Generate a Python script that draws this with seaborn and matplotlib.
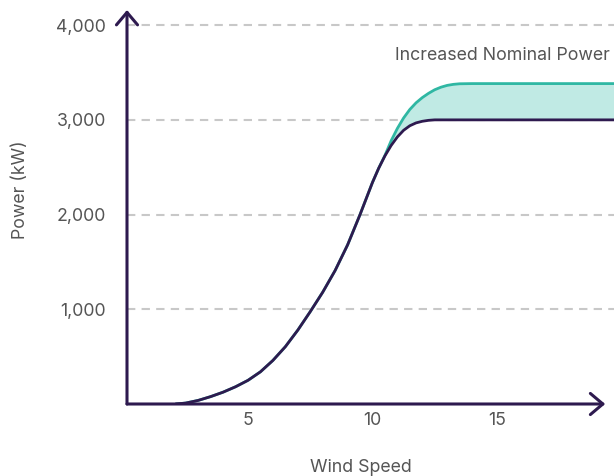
import pandas as pd
import matplotlib
matplotlib.use('Agg')
import matplotlib.pyplot as plt
import seaborn as sns

# data (wind speed in m/s, power in kW)
wind_speed = [2.1, 2.5, 3.0, 3.5, 4.0, 4.5, 5.0, 5.5, 6.0, 6.5, 7.0, 7.5, 8.0,
              8.5, 9.0, 9.5, 10.0, 10.25, 10.5, 10.75, 11.0, 11.25, 11.5,
              11.75, 12.0, 12.25, 12.5, 12.75, 13.0, 13.25, 13.5, 14.0, 15.0,
              16.0, 17.0, 18.0, 19.0, 19.8]
power_standard = [0, 10, 38, 78, 125, 182, 250, 340, 460, 605, 780, 975, 1180,
                  1410, 1680, 2000, 2340, 2490, 2620, 2730, 2820, 2890, 2938,
                  2968, 2985, 2995, 3000, 3000, 3000, 3000, 3000, 3000, 3000,
                  3000, 3000, 3000, 3000, 3000]
power_increased = [0, 10, 38, 78, 125, 182, 250, 340, 460, 605, 780, 975, 1180,
                   1410, 1680, 2000, 2340, 2490, 2625, 2780, 2910, 3020, 3110,
                   3180, 3235, 3280, 3318, 3345, 3364, 3375, 3381, 3383, 3383,
                   3383, 3383, 3383, 3383, 3383]
x_ticks = [5, 10, 15]
y_ticks = [1000, 2000, 3000, 4000]
y_tick_labels = ['1,000', '2,000', '3,000', '4,000']

dark = '#2e1a4f'
teal = '#2fb7a3'
fill = '#c0eae4'
grey = '#555555'

df = pd.DataFrame({'speed': wind_speed, 'standard': power_standard,
                   'increased': power_increased})

sns.set_theme(style='white')
plt.rcParams['font.family'] = ['Inter', 'DejaVu Sans']

fig = plt.figure(figsize=(6.14, 4.76), dpi=100)
ax = fig.add_axes([127 / 614, 72 / 476, 487 / 614, 394 / 476])

ax.fill_between(df['speed'], df['standard'], df['increased'], color=fill, lw=0)
sns.lineplot(data=df, x='speed', y='increased', color=teal, lw=2, ax=ax)
sns.lineplot(data=df, x='speed', y='standard', color=dark, lw=2, ax=ax)

ax.set_xlim(0.14, 19.7)
ax.set_ylim(0, 4160)

for y in y_ticks:
    ax.axhline(y, color='#c8c8c8', lw=1.5, ls=(0, (4, 3)), zorder=0)

for s in ax.spines.values():
    s.set_visible(False)

# arrowed axes
arrow = dict(arrowstyle='->,head_length=0.45,head_width=0.38', color=dark,
             lw=2.2, mutation_scale=20, shrinkA=0, shrinkB=0)
ax.annotate('', xy=(0.982, 0), xytext=(0, 0), xycoords='axes fraction',
            arrowprops=arrow, annotation_clip=False)
ax.annotate('', xy=(0, 1.0), xytext=(0, 0), xycoords='axes fraction',
            arrowprops=arrow, annotation_clip=False)

ax.set_xticks(x_ticks)
ax.set_xticklabels([str(t) for t in x_ticks])
ax.set_yticks(y_ticks)
ax.set_yticklabels(y_tick_labels)
ax.tick_params(axis='both', length=0, labelsize=12.8, colors=grey)
ax.tick_params(axis='x', pad=6)
ax.tick_params(axis='y', pad=15)

ax.set_xlabel('Wind Speed', fontsize=12.8, color=grey)
ax.set_ylabel('Power (kW)', fontsize=12.8, color=grey)
ax.xaxis.set_label_coords(0.481, -0.14)
ax.yaxis.set_label_coords(-0.201, 0.544)

ax.text(19.55, 3680, 'Increased Nominal Power', ha='right', va='center',
        fontsize=12.8, color=grey)

fig.savefig('out.png', dpi=100)
